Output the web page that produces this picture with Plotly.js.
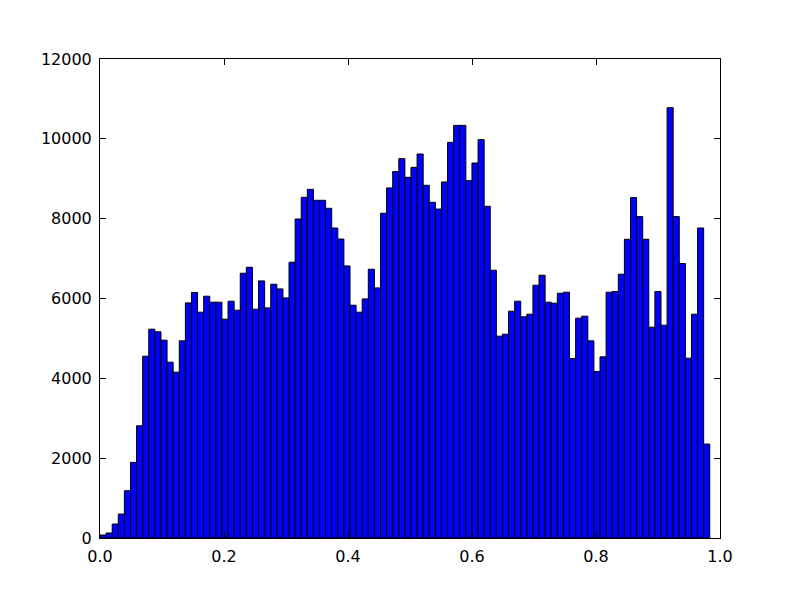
<!DOCTYPE html>
<html>
<head>
<meta charset="utf-8">
<script src="https://cdn.plot.ly/plotly-3.0.1.min.js"></script>
<style>html,body{margin:0;padding:0;background:#fff;}#chart{width:800px;height:597px;}</style>
</head>
<body>
<div id="chart"></div>
<script>
// Histogram: 100 bins from binStart, each binWidth wide
const binStart = 0.0;
const binWidth = 0.009835;
const counts = [
  75, 125, 350, 600, 1185, 1894, 2811, 4555, 5231, 5165,
  4956, 4405, 4155, 4939, 5890, 6150, 5657, 6057, 5907, 5907,
  5482, 5932, 5707, 6633, 6783, 5732, 6441, 5765, 6358, 6241,
  6015, 6908, 7992, 8535, 8735, 8460, 8460, 8260, 7766, 7490,
  6816, 5832, 5657, 5990, 6733, 6266, 8135, 8770, 9180, 9504,
  9036, 9286, 9620, 8836, 8410, 8241, 8919, 9912, 10337, 10337,
  8952, 9394, 9980, 8310, 6708, 5056, 5106, 5682, 5932, 5540,
  5607, 6333, 6583, 5907, 5882, 6132, 6157, 4497, 5507, 5557,
  4939, 4170, 4538, 6157, 6175, 6608, 7484, 8528, 8052, 7484,
  5281, 6175, 5331, 10780, 8052, 6876, 4505, 5607, 7766, 2353
];
const xTickVals = [0.0, 0.2, 0.4, 0.6, 0.8, 1.0];
const xTickText = ["0.0", "0.2", "0.4", "0.6", "0.8", "1.0"];
const yTickVals = [0, 2000, 4000, 6000, 8000, 10000, 12000];
const yTickText = ["0", "2000", "4000", "6000", "8000", "10000", "12000"];

const centers = counts.map((_, i) => binStart + (i + 0.5) * binWidth);

const trace = {
  type: 'bar',
  x: centers,
  y: counts,
  width: binWidth,
  marker: {color: '#0000ff', line: {color: '#000000', width: 1}},
  hoverinfo: 'x+y'
};

const font = {family: 'DejaVu Sans, sans-serif', size: 16, color: '#000'};

const layout = {
  width: 800,
  height: 597,
  margin: {l: 100, r: 80, t: 59, b: 59, pad: 0},
  paper_bgcolor: '#ffffff',
  plot_bgcolor: '#ffffff',
  showlegend: false,
  font: font,
  bargap: 0,
  xaxis: {
    range: [0, 1],
    tickvals: xTickVals,
    ticktext: xTickText,
    ticks: 'inside',
    ticklen: 6,
    tickwidth: 1,
    tickcolor: '#000',
    showline: true,
    linecolor: '#000',
    linewidth: 1,
    mirror: 'allticks',
    showgrid: false,
    zeroline: false,
    tickfont: font,
    ticklabelstandoff: 4
  },
  yaxis: {
    range: [0, 12000],
    tickvals: yTickVals,
    ticktext: yTickText,
    ticks: 'inside',
    ticklen: 6,
    tickwidth: 1,
    tickcolor: '#000',
    showline: true,
    linecolor: '#000',
    linewidth: 1,
    mirror: 'allticks',
    showgrid: false,
    zeroline: false,
    tickfont: font,
    ticklabelstandoff: 4
  }
};

Plotly.newPlot('chart', [trace], layout, {displayModeBar: false, staticPlot: true});
</script>
</body>
</html>
